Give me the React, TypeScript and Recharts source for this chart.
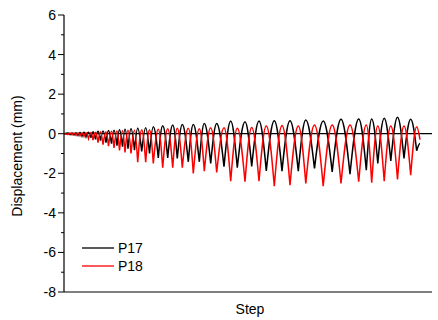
import React from 'react';
import { LineChart, Line, XAxis, YAxis, ReferenceLine, Legend } from 'recharts';

// Step index (position along the loading history)
const steps = [
  0, 4, 6, 8, 10, 12, 14, 16, 18, 20, 22, 24.5, 27, 29, 31.5, 34, 36.5, 39, 42, 44.5,
  47.5, 50, 53, 55.5, 58.5, 61, 64, 67, 70.5, 73.7, 77.7, 81.7, 85.5, 89.3, 94.3, 98.7,
  103.7, 108.7, 113.3, 118.3, 124.3, 129.3, 135.3, 140.3, 146.7, 152.7, 160, 166.7, 173.3,
  181, 187.7, 195, 202.3, 210.3, 218, 226, 234.3, 241.8, 250.5, 259.2, 268.2, 277, 286,
  294.7, 302.3, 307.7, 313.8, 320.2, 326.8, 333.5, 340, 346.7, 352.7, 356,
];

const p17 = [
  0, 0.03, -0.04, 0.04, -0.06, 0.05, -0.08, 0.06, -0.12, 0.07, -0.15, 0.08, -0.2, 0.1,
  -0.28, 0.12, -0.35, 0.14, -0.45, 0.16, -0.5, 0.18, -0.6, 0.2, -0.66, 0.22, -0.75, 0.25,
  -0.83, 0.27, -0.9, 0.3, -1.0, 0.35, -1.22, 0.4, -1.22, 0.44, -1.25, 0.47, -1.42, 0.47,
  -1.42, 0.52, -1.5, 0.52, -1.67, 0.64, -1.72, 0.61, -1.65, 0.64, -1.88, 0.66, -1.89, 0.66,
  -1.89, 0.69, -1.76, 0.64, -1.93, 0.73, -2.05, 0.74, -1.84, 0.74, -1.5, 0.78, -1.37, 0.83,
  -1.25, 0.73, -0.86, -0.5,
];

const p18 = [
  0, -0.04, 0.03, -0.06, 0.03, -0.08, 0.04, -0.1, 0.04, -0.13, 0.05, -0.25, 0.06, -0.32,
  0.08, -0.45, 0.1, -0.55, 0.1, -0.63, 0.12, -0.72, 0.14, -0.85, 0.15, -0.95, 0.17, -1.0,
  0.18, -1.44, 0.2, -1.44, 0.2, -1.5, 0.22, -1.72, 0.25, -1.72, 0.27, -1.72, 0.27, -2.01,
  0.25, -1.89, 0.3, -1.96, 0.3, -2.4, 0.27, -2.43, 0.32, -2.4, 0.39, -2.65, 0.41, -2.6,
  0.39, -2.51, 0.44, -2.65, 0.44, -2.51, 0.44, -2.43, 0.44, -2.48, 0.39, -2.4, 0.39, -2.31,
  0.39, -2.09, 0.35, -0.3,
];

const yTicks = [-8, -7, -6, -5, -4, -3, -2, -1, 0, 1, 2, 3, 4, 5, 6];
const xMinorTicks = [84, 169, 254, 339];

const seriesNames = ['P17', 'P18'];
const seriesColors = ['#000000', '#ff0000'];

const data = steps.map((s, i) => ({ step: s, P17: p17[i], P18: p18[i] }));

const FONT = 'Liberation Sans, Arial, sans-serif';

// Curve: rounded crests, sharp (cusp-like) troughs, like |sin| oscillations.
const crestCurve = (context: any) => {
  let pts: { x: number; y: number }[] = [];
  return {
    areaStart() {},
    areaEnd() {},
    lineStart() {
      pts = [];
    },
    point(x: number, y: number) {
      pts.push({ x: +x, y: +y });
    },
    lineEnd() {
      if (!pts.length) return;
      context.moveTo(pts[0].x, pts[0].y);
      for (let i = 1; i < pts.length; i++) {
        const a = pts[i - 1];
        const b = pts[i];
        const dx = b.x - a.x;
        if (a.y <= b.y) {
          // a is the crest, b the trough
          context.bezierCurveTo(a.x + 0.36 * dx, a.y, b.x - dx / 3, b.y + 0.52 * (a.y - b.y), b.x, b.y);
        } else {
          // a is the trough, b the crest
          context.bezierCurveTo(a.x + dx / 3, a.y + 0.52 * (b.y - a.y), a.x + 0.64 * dx, b.y, b.x, b.y);
        }
      }
    },
  };
};

const LeftTick = (props: any) => {
  const { x, y, payload } = props;
  const v = payload.value as number;
  const major = v % 2 === 0;
  return (
    <g>
      <line x1={x - (major ? 6 : 3)} x2={x} y1={y} y2={y} stroke="#000" strokeWidth={1} />
      {major && (
        <text x={x - 8} y={y} textAnchor="end" dominantBaseline="central" fontSize={14} fontFamily={FONT} fill="#000">
          {v}
        </text>
      )}
    </g>
  );
};

const LegendContent = () => (
  <div style={{ fontFamily: FONT, fontSize: 14, lineHeight: '18px' }}>
    {seriesNames.map((n, i) => (
      <div key={n} style={{ display: 'flex', alignItems: 'center', height: 18 }}>
        <svg width={36} height={18} style={{ display: 'block' }}>
          <line x1={0} x2={32} y1={9} y2={9} stroke={seriesColors[i]} strokeWidth={1.3} />
        </svg>
        <span style={{ color: '#000' }}>{n}</span>
      </div>
    ))}
  </div>
);

export default function App() {
  return (
    <div style={{ position: 'absolute', left: 0, top: 0, background: '#fff' }}>
      <LineChart width={438} height={320} data={data} margin={{ top: 15, right: 6, bottom: 0, left: 14 }}>
        <XAxis
          xAxisId="bottom"
          dataKey="step"
          type="number"
          domain={[0, 368]}
          ticks={xMinorTicks}
          tick={false}
          tickSize={2}
          tickLine={{ stroke: '#aaa' }}
          axisLine={{ stroke: '#000', strokeWidth: 1.2 }}
          height={28}
          label={{ value: 'Step', position: 'insideBottom', offset: 6, dx: 2, fontSize: 14, fontFamily: FONT, fill: '#000' }}
        />
        <XAxis
          xAxisId="top"
          orientation="top"
          dataKey="step"
          type="number"
          domain={[0, 368]}
          ticks={xMinorTicks}
          tick={false}
          tickSize={2}
          tickLine={{ stroke: '#aaa' }}
          axisLine={{ stroke: '#000', strokeWidth: 1.2 }}
          height={0}
        />
        <YAxis
          yAxisId="left"
          type="number"
          domain={[-8, 6]}
          ticks={yTicks}
          interval={0}
          width={50}
          tickLine={false}
          tickSize={0}
          tickMargin={0}
          tick={<LeftTick />}
          axisLine={{ stroke: '#000', strokeWidth: 1.2 }}
          label={{
            content: () => (
              <text
                x={17}
                y={156}
                transform="rotate(-90 17 156)"
                textAnchor="middle"
                dominantBaseline="central"
                fontSize={14}
                fontFamily={FONT}
                fill="#000"
              >
                Displacement (mm)
              </text>
            ),
          }}
        />
        <YAxis
          yAxisId="right"
          orientation="right"
          type="number"
          domain={[-8, 6]}
          ticks={yTicks}
          interval={0}
          width={0}
          tick={false}
          tickSize={3}
          tickLine={{ stroke: '#000' }}
          axisLine={{ stroke: '#000', strokeWidth: 1.2 }}
        />
        <ReferenceLine yAxisId="left" xAxisId="bottom" y={0} stroke="#000" strokeWidth={1.3} />
        <Line
          xAxisId="bottom"
          yAxisId="left"
          type={crestCurve as any}
          dataKey="P17"
          stroke={seriesColors[0]}
          strokeWidth={1.5}
          dot={false}
          isAnimationActive={false}
        />
        <Line
          xAxisId="bottom"
          yAxisId="left"
          type={crestCurve as any}
          dataKey="P18"
          stroke={seriesColors[1]}
          strokeWidth={1.5}
          dot={false}
          isAnimationActive={false}
        />
        <Legend
          layout="horizontal"
          verticalAlign="middle"
          align="center"
          content={<LegendContent />}
          wrapperStyle={{ position: 'absolute', left: 82, top: 239, width: 80, height: 36 }}
        />
      </LineChart>
    </div>
  );
}
